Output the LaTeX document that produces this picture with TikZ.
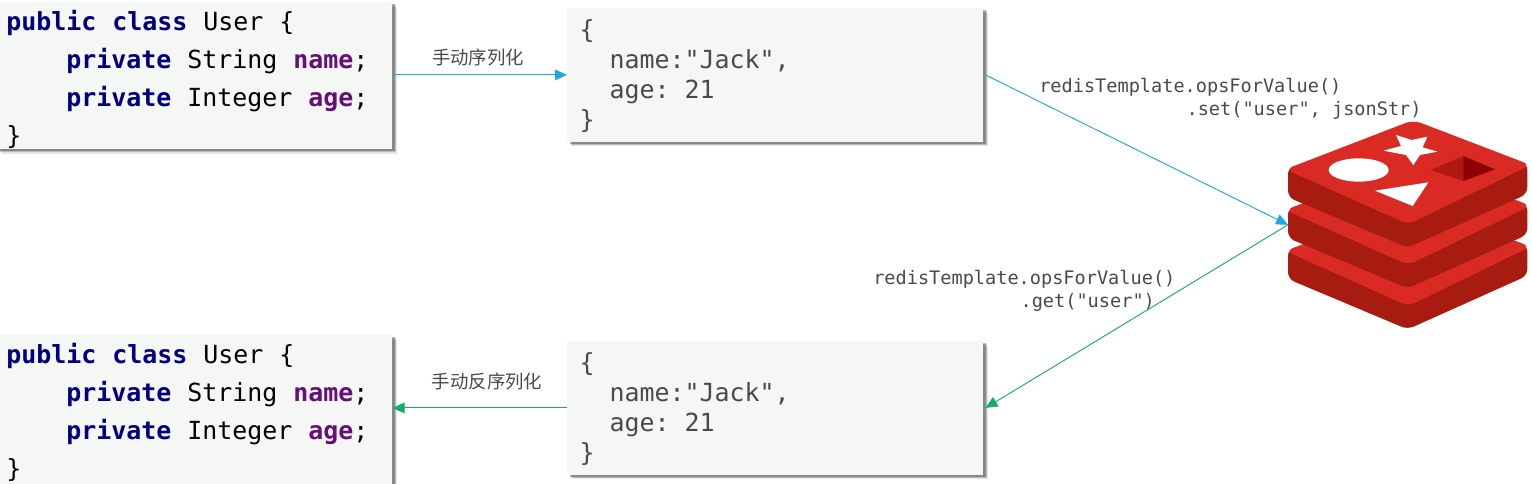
\documentclass[tikz,border=0pt]{standalone}
\usepackage{fontspec}
\setmonofont{DejaVu Sans Mono}
\newfontfamily\cjkfont{Noto Sans CJK SC}
\usetikzlibrary{shadows,arrows.meta}
\definecolor{boxbg}{HTML}{F4F7F4}
\definecolor{kwnavy}{HTML}{000080}
\definecolor{kwpurple}{HTML}{660E7A}
\definecolor{txtgray}{HTML}{4A4A4A}
\definecolor{arrblue}{HTML}{1BA9E1}
\definecolor{arrgreen}{HTML}{13AE67}
\definecolor{redface}{HTML}{D92B23}
\definecolor{redside}{HTML}{A81B10}
\newcommand{\kw}[1]{\textcolor{kwnavy}{\textbf{#1}}}
\newcommand{\fld}[1]{\textcolor{kwpurple}{\textbf{#1}}}
\newcommand{\msp}{\hspace{12pt}}
\newcommand{\codetext}[1]{\rule{0pt}{#1}\kw{public}\msp\kw{class}\msp User\msp\{\\
\hspace*{45pt}\kw{private}\msp String\msp\fld{name};\\
\hspace*{45pt}\kw{private}\msp Integer\msp\fld{age};\\
\}}
\newcommand{\jsontext}{\rule{0pt}{16.5pt}\{\\
\hspace*{22.5pt}name:"Jack",\\
\hspace*{22.5pt}age:\hspace{11.26pt}21\\
\}}
\tikzset{
  x=0.75pt,y=-0.75pt,
  softshadow/.style={
    general shadow={shadow xshift=3.6pt,shadow yshift=-3.2pt,fill=black,opacity=.10},
    general shadow={shadow xshift=2.8pt,shadow yshift=-2.4pt,fill=black,opacity=.18},
    general shadow={shadow xshift=2pt,shadow yshift=-1.6pt,fill=black,opacity=.28}},
  codebox/.style={softshadow,fill=boxbg,anchor=north west,inner xsep=7.5pt,inner ysep=0pt,
    minimum width=297pt,text width=282pt,align=left,text=black,
    font=\fontsize{18.7}{28.5}\selectfont\ttfamily},
  jsonbox/.style={softshadow,fill=boxbg,anchor=north west,inner xsep=9.25pt,inner ysep=0pt,
    minimum width=312pt,minimum height=100pt,text width=293.5pt,align=left,text=txtgray,
    font=\fontsize{18.7}{22.5}\selectfont\ttfamily},
  cnlabel/.style={text=txtgray,font=\fontsize{13.8}{16}\cjkfont,inner sep=0pt},
  calllabel/.style={text=txtgray,align=left,inner sep=0pt,font=\fontsize{13.94}{17.25}\selectfont\ttfamily},
  bluearrow/.style={draw=arrblue,line width=.7pt,-{Triangle[length=9pt,width=8pt,fill=arrblue]}},
  greenarrow/.style={draw=arrgreen,line width=.7pt,-{Triangle[length=9pt,width=8pt,fill=arrgreen]}},
  logoface/.style={fill=redface,rounded corners=6pt},
  logoside/.style={fill=redside,rounded corners=5pt},
  logocut/.style={fill=white}
}
\newcommand{\redislayer}[1]{%
  \fill[logoside] (54,172+#1) -- (54,262+#1) -- (413,413+#1) -- (772,252+#1) -- (772,160+#1) -- (430,100+#1) -- cycle;
  \fill[logoface] (46,178+#1) -- (430,30+#1) -- (782,165+#1) -- (415,343+#1) -- cycle;
}
\begin{document}
\begin{tikzpicture}
\useasboundingbox (0,0) rectangle (1532,483);
% boxes
\node[codebox,minimum height=110.25pt] (code1) at (-4,2) {\codetext{21pt}};
\node[jsonbox] (json1) at (567,8) {\jsontext};
\node[codebox,minimum height=115.5pt] (code2) at (-4,335) {\codetext{0pt}};
\node[jsonbox] (json2) at (567,341) {\jsontext};
% redis logo
\node[minimum width=179pt,minimum height=153.75pt,inner sep=0pt,anchor=north west] (redis) at (1288,122) {};
\begin{scope}[shift={(1270,110)},x=0.25pt,y=-0.25pt]
  \redislayer{245}
  \redislayer{122}
  \redislayer{0}
  \fill[logocut] (266,180) ellipse [x radius=90,y radius=35];
  \fill[logocut] (378,75) -- (425,90) -- (472,80) -- (458,112) -- (502,125) -- (450,135) -- (430,165) -- (408,135) -- (340,122) -- (393,108) -- cycle;
  \fill[logocut] (315,242) -- (475,217) -- (428,288) -- cycle;
  \fill[fill=redside!92!red] (483,180) -- (580,138) -- (580,213) -- cycle;
  \fill[fill=black!45!red] (580,138) -- (675,178) -- (580,213) -- cycle;
\end{scope}
% connectors
\draw[bluearrow] (code1.east |- json1.west) -- (json1.west);
\draw[bluearrow] (json1.east) ++(2,0) -- (redis.west);
\draw[greenarrow] (redis.west) -- ([xshift=1.5pt]json2.east);
\draw[greenarrow] (json2.west) -- (json2.west -| code2.east);
% labels
\node[cnlabel] (l1) at (478,58) {手动序列化};
\node[cnlabel] (l2) at (487,381) {手动反序列化};
\node[calllabel,anchor=north west] (c1) at (1039,78) {redisTemplate.opsForValue()\\\hspace*{110.5pt}.set("user", jsonStr)};
\node[calllabel,anchor=north west] (c2) at (873,270) {redisTemplate.opsForValue()\\\hspace*{110.5pt}.get("user")};
\end{tikzpicture}
\end{document}
